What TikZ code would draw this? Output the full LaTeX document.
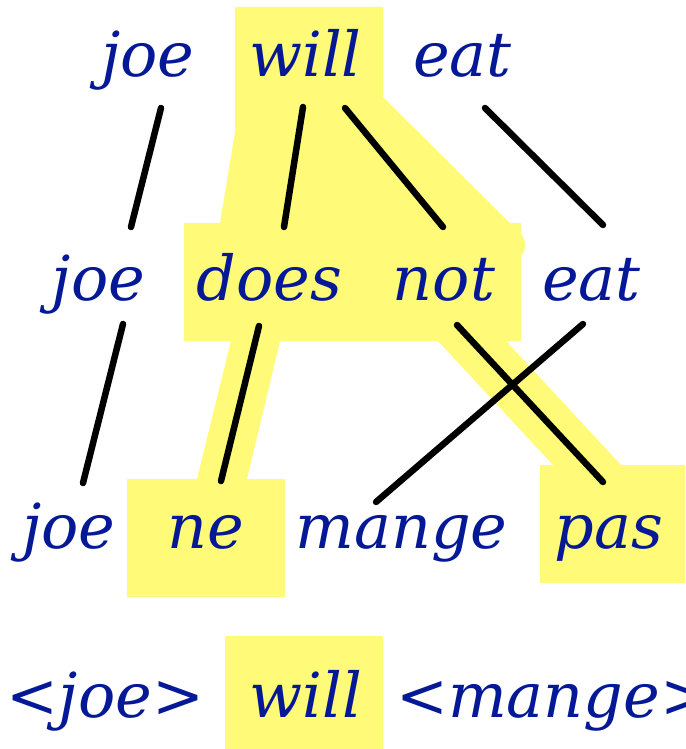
\documentclass[tikz,border=0pt]{standalone}
\usepackage{fontspec}
\setmainfont{DejaVu Serif}
\usetikzlibrary{calc}
\definecolor{wordblue}{RGB}{5,25,150}
\definecolor{hl}{RGB}{255,250,120}
\begin{document}
\begin{tikzpicture}[x=1pt,y=-1pt,
  word/.style={anchor=base,inner sep=0pt,text=wordblue,font=\fontsize{62}{72}\selectfont\itshape},
  link/.style={line width=6.5pt,line cap=round,black}]
\useasboundingbox (0,0) rectangle (685,749);
% highlights
\fill[hl] (235,7) -- (383,7) -- (383,97) -- (510,223) -- (521,223) -- (521,341) -- (184,341) -- (184,223) -- (220,223) -- (235,132) -- cycle;
\fill[hl] (508,245) circle (17);
\fill[hl] (231,341) -- (280,341) -- (247,479) -- (197,479) -- cycle;
\fill[hl] (127,479) rectangle (285,597);
\fill[hl] (438,341) -- (506,341) -- (621,465) -- (553,465) -- cycle;
\fill[hl] (540,465) rectangle (685,583);
\fill[hl] (225,636) rectangle (383,749);
% words
\node[word] (joeA) at (148,77) {joe};
\node[word] (willA) at (305.5,77) {will};
\node[word] (eatA) at (462.5,77) {eat};
\node[word] (joeB) at (98.5,300) {joe};
\node[word] (does) at (269.5,300) {does};
\node[word] (not) at (444,300) {not};
\node[word] (eatB) at (591.5,300) {eat};
\node[word] (joeC) at (69,548) {joe};
\node[word] (ne) at (206,548) {ne};
\node[word] (mange) at (401.5,548) {mange};
\node[word] (pas) at (609,548) {pas};
\node[word] (joeD) at (105.5,717) {<joe>};
\node[word] (willD) at (306,717) {will};
\node[word,anchor=base west] (mangeD) at (396,717) {<mange>};
% links
\draw[link] ($(joeA.base)+(13,31)$) -- ($(joeB.base)+(32.5,-73)$);
\draw[link] ($(willA.base)+(-2.5,30)$) -- ($(does.base)+(14.5,-73)$);
\draw[link] ($(willA.base)+(39.5,31)$) -- ($(not.base)+(-1,-73)$);
\draw[link] ($(eatA.base)+(22.5,31)$) -- ($(eatB.base)+(11.5,-75)$);
\draw[link] ($(joeB.base)+(24.5,24)$) -- ($(joeC.base)+(14,-65)$);
\draw[link] ($(does.base)+(-10.5,26)$) -- ($(ne.base)+(15,-67)$);
\draw[link] ($(eatB.base)+(-8.5,24)$) -- ($(mange.base)+(-25.5,-46)$);
\draw[link] ($(not.base)+(13,25)$) -- ($(pas.base)+(-6,-66)$);
\end{tikzpicture}
\end{document}
